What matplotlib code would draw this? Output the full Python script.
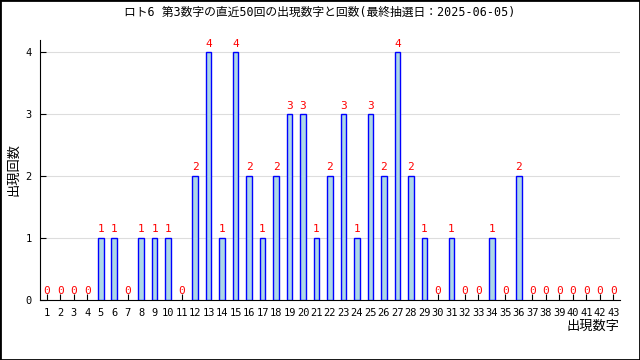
import numpy as np
import matplotlib.pyplot as plt
from matplotlib.patches import Rectangle

plt.rcParams['font.family'] = ['DejaVu Sans Mono', 'Noto Sans CJK JP']

numbers = list(range(1, 44))
counts = [0, 0, 0, 0, 1, 1, 0, 1, 1, 1,
          0, 2, 4, 1, 4, 2, 1, 2, 3, 3,
          1, 2, 3, 1, 3, 2, 4, 2, 1, 0,
          1, 0, 0, 1, 0, 2, 0, 0, 0, 0,
          0, 0, 0]
title = 'ロト6 第3数字の直近50回の出現数字と回数(最終抽選日：2025-06-05)'

fig = plt.figure(figsize=(6.4, 3.6), dpi=100)
ax = fig.add_axes([0.0625, 0.1667, 0.9062, 0.7222])

nums = np.array(numbers)
vals = np.array(counts)
mask = vals > 0
ax.bar(nums[mask], vals[mask], width=0.42, color='#add8e6',
       edgecolor='blue', linewidth=1.0, zorder=3)
for n, v in zip(numbers, counts):
    ax.text(n, v + 0.06, str(v), color='red', ha='center', va='bottom',
            fontsize=8, zorder=4)

ax.set_xlim(0.5, 43.5)
ax.set_ylim(0, 4.2)
ax.set_yticks([0, 1, 2, 3, 4])
ax.set_xticks(numbers)
ax.set_xticklabels([str(n) for n in numbers], fontsize=7.5)
ax.tick_params(axis='y', labelsize=7.5, direction='in', length=4, pad=6)
ax.tick_params(axis='x', direction='in', length=4, pad=6)
ax.spines['top'].set_visible(False)
ax.spines['right'].set_visible(False)
ax.grid(axis='y', color='#dddddd', linewidth=0.8, zorder=0)
ax.set_axisbelow(True)

ax.set_xlabel('出現数字', fontsize=9.5, family=['Noto Sans CJK JP'])
ax.xaxis.set_label_coords(1.0, -0.075)
ax.xaxis.label.set_ha('right')
ax.set_ylabel('出現回数', fontsize=9.5, family=['Noto Sans CJK JP'])
ax.yaxis.set_label_coords(-0.034, 0.5)

fig.text(0.5, 0.965, title, ha='center', va='center', fontsize=8.5)
fig.patches.append(Rectangle((0, 0), 1, 1, transform=fig.transFigure,
                             fill=False, edgecolor='black', linewidth=2))

plt.savefig('out.png', dpi=100)
